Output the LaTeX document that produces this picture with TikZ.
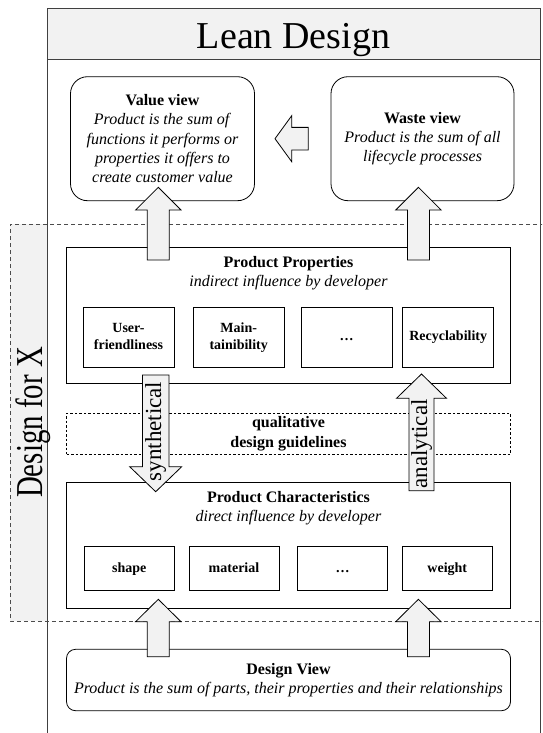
\documentclass[tikz,border=0pt]{standalone}
\usepackage{fontspec}
\setmainfont{Liberation Serif}

\definecolor{panel}{HTML}{F2F2F2}

% fat block arrow, vertical: x, tail y, head base y, tip y, shaft half, head half
\newcommand{\fatv}[6]{%
  \draw[fat] (#1-#5,#2) -- (#1-#5,#3) -- (#1-#6,#3) -- (#1,#4)
    -- (#1+#6,#3) -- (#1+#5,#3) -- (#1+#5,#2) -- cycle;}
% same, horizontal: y, tail x, head base x, tip x, shaft half, head half
\newcommand{\fath}[6]{%
  \draw[fat] (#2,#1-#5) -- (#3,#1-#5) -- (#3,#1-#6) -- (#4,#1)
    -- (#3,#1+#6) -- (#3,#1+#5) -- (#2,#1+#5) -- cycle;}

\begin{document}
\begin{tikzpicture}[x=1pt, y=-1pt,
    frame/.style={draw=black!75, line width=1pt, inner sep=0pt},
    box/.style={draw, fill=white, line width=0.8pt, inner sep=2pt},
    view/.style={box, rounded corners=17pt, minimum width=184pt, minimum height=124pt, txt},
    wide/.style={box, minimum width=444pt},
    item/.style={box, minimum width=91pt, align=center, font=\fontsize{14}{16.8}\selectfont\bfseries},
    fat/.style={draw, fill=panel, line width=0.8pt, line join=miter},
    txt/.style={align=center, font=\fontsize{16}{19.2}\selectfont},
    big/.style={font=\fontsize{38}{40}\selectfont, inner sep=0pt},
    vlbl/.style={rotate=90, inner sep=0pt, font=\fontsize{23}{24}\selectfont}
]
\useasboundingbox (0,0) rectangle (542,733);
\clip (0,0) rectangle (542,733);

% Design for X strip and Lean Design frame
\fill[panel] (10,224) rectangle (47,621);
\node[frame, fill=white, minimum width=493pt, minimum height=760pt, anchor=north west] (lean) at (47,8) {};
\node[frame, fill=panel, minimum width=493pt, minimum height=51pt, anchor=north west] (leanhead) at (47,8) {};
\node[big, anchor=base] (leantitle) at (293.5,48.3) {Lean Design};
\draw[black!70, line width=0.8pt, dash pattern=on 4pt off 3pt] (600,224) -- (10,224) -- (10,621) -- (600,621);
\node[big, rotate=90, anchor=base] (dfx) at (42.5,422.5) {\scalebox{0.76}[1]{Design for X}};

% views
\node[view] (value) at (162.5,138.7) {\textbf{Value view}\\\textit{Product is the sum of}\\\textit{functions it performs or}\\\textit{properties it offers to}\\\textit{create customer value}};
\node[view, minimum width=183pt] (waste) at (422.5,138.7) {\textbf{Waste view}\\\textit{Product is the sum of all}\\\textit{lifecycle processes}};

% product properties
\node[wide, minimum height=136pt] (props) at (288.5,315.3) {};
\node[txt] (propstitle) at (288.5,272.8) {\textbf{Product Properties}\\\textit{indirect influence by developer}};
\node[item, minimum height=60.4pt] (user) at (128.5,337.5) {\strut User-\\\strut friendliness};
\node[item, minimum height=60.4pt] (maint) at (238.7,337.5) {\strut Main-\\\strut tainibility};
\node[item, minimum height=60.4pt] (pdots) at (346.7,337.5) {\strut …};
\node[item, minimum height=60.4pt] (recyc) at (448.2,337.5) {\strut Recyclability};

\node[draw, line width=0.6pt, dash pattern=on 2.5pt off 2pt, minimum width=444pt, minimum height=40.7pt, txt, font=\fontsize{16}{19.2}\selectfont\bfseries] (guide) at (288.5,433.7) {qualitative\\design guidelines};

% product characteristics
\node[wide, minimum height=125.6pt] (chars) at (288.5,545.5) {};
\node[txt] (charstitle) at (288.5,507.8) {\textbf{Product Characteristics}\\\textit{direct influence by developer}};
\node[item, minimum width=90pt, minimum height=44pt] (shape) at (129.3,568.7) {\strut shape};
\node[item, minimum width=90pt, minimum height=44pt] (material) at (234,568.7) {\strut material};
\node[item, minimum width=90pt, minimum height=44pt] (cdots) at (342.5,568.7) {\strut …};
\node[item, minimum width=90pt, minimum height=44pt] (weight) at (447.3,568.7) {\strut weight};

% design view
\node[wide, rounded corners=9pt, minimum height=61.4pt, txt] (design) at (288.5,680) {\textbf{Design View}\\\textit{Product is the sum of parts, their properties and their relationships}};

% block arrows
\fatv{158.3}{260}{210}{187.3}{11}{22.7}
\fatv{418.4}{260}{210}{187.3}{11}{22.7}
\fath{138.7}{308.3}{291.7}{275}{11.3}{23}
\fatv{155.7}{375}{466.7}{491.7}{13.3}{26}
\fatv{421.5}{490.7}{398.3}{374}{12.5}{25}
\fatv{158.3}{656.7}{621.7}{599.3}{11}{22.7}
\fatv{418.4}{656.7}{621.7}{599.3}{11}{22.7}

\node[vlbl] (synth) at (155.7,431.5) {synthetical};
\node[vlbl] (analyt) at (421.5,444) {analytical};

\end{tikzpicture}
\end{document}
